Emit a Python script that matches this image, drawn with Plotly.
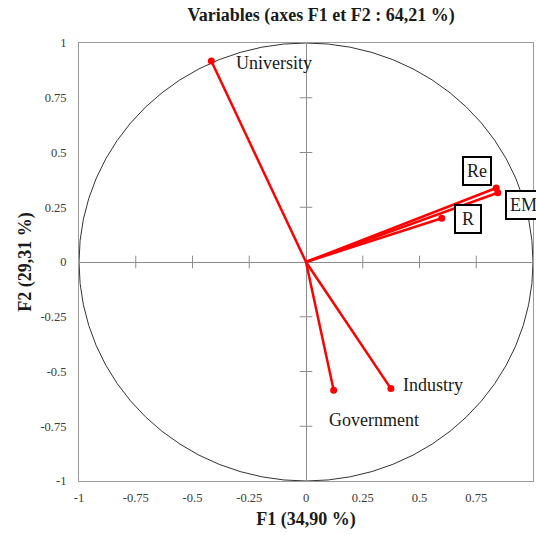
import plotly.graph_objects as go

variables = ["University", "Re", "EM", "R", "Industry", "Government"]
f1 = [-0.417, 0.838, 0.845, 0.598, 0.374, 0.122]
f2 = [0.918, 0.338, 0.316, 0.2, -0.578, -0.586]
tick_vals = [-1, -0.75, -0.5, -0.25, 0, 0.25, 0.5, 0.75, 1]
tick_text = ["-1", "-0.75", "-0.5", "-0.25", "0", "0.25", "0.5", "0.75", "1"]

label_style = {
    "University": dict(xshift=63, yshift=-2, box=False, width=None),
    "Re": dict(xshift=-19, yshift=17, box=True, width=None),
    "EM": dict(xshift=26, yshift=-12, box=True, width=None),
    "R": dict(xshift=26, yshift=-1, box=True, width=18),
    "Industry": dict(xshift=42, yshift=4, box=False, width=None),
    "Government": dict(xshift=40, yshift=-30, box=False, width=None),
}

SERIF = "Liberation Serif, Times New Roman, serif"
RED = "#ff0000"
TXT = "#1a1a1a"
AXC = "#8c8c8c"

fig = go.Figure()

# crosshair tick marks on the centre axes
inner = [v for v in tick_vals if v not in (-1, 1, 0)]
fig.add_trace(go.Scatter(x=inner, y=[0] * len(inner), mode="markers",
                         marker=dict(symbol="line-ns-open", size=9, color=AXC, line=dict(color=AXC, width=1)),
                         hoverinfo="skip", showlegend=False))
fig.add_trace(go.Scatter(x=[0] * len(inner), y=inner, mode="markers",
                         marker=dict(symbol="line-ew-open", size=9, color=AXC, line=dict(color=AXC, width=1)),
                         hoverinfo="skip", showlegend=False))

for name, x, y in zip(variables, f1, f2):
    fig.add_trace(go.Scatter(x=[0, x], y=[0, y], mode="lines",
                             line=dict(color=RED, width=2.5), showlegend=False, hoverinfo="skip"))
fig.add_trace(go.Scatter(x=f1, y=f2, mode="markers", marker=dict(color=RED, size=7),
                         showlegend=False, text=variables))

for name, x, y in zip(variables, f1, f2):
    st = label_style[name]
    ann = dict(x=x, y=y, text=name, showarrow=False, xshift=st["xshift"], yshift=st["yshift"],
               font=dict(family=SERIF, size=18, color=TXT))
    if st["box"]:
        ann.update(bordercolor="black", borderwidth=2, borderpad=3, bgcolor="white")
    if st["width"]:
        ann.update(width=st["width"])
    fig.add_annotation(**ann)

fig.add_shape(type="circle", xref="x", yref="y", x0=-1, y0=-1, x1=1, y1=1,
              line=dict(color="#333333", width=1), layer="below")

axis_common = dict(range=[-1, 1], tickvals=tick_vals, ticktext=tick_text, showgrid=False,
                   zeroline=True, zerolinecolor=AXC, zerolinewidth=1,
                   showline=True, linecolor="#9a9a9a", linewidth=1, mirror=True,
                   ticks="", tickfont=dict(family=SERIF, size=12.5, color="#3a3a3a"))

fig.update_layout(
    width=536, height=535,
    margin=dict(l=79, r=3, t=43, b=54),
    paper_bgcolor="white", plot_bgcolor="white",
    title=dict(text="<b>Variables (axes F1 et F2 : 64,21 %)</b>", x=0.599, xanchor="center",
               y=0.972, yanchor="middle", font=dict(family=SERIF, size=18, color=TXT)),
    xaxis=dict(**axis_common, title=dict(text="<b>F1 (34,90 %)</b>", standoff=8,
                                         font=dict(family=SERIF, size=18, color=TXT))),
    yaxis=dict(**axis_common, title=dict(text="<b>F2 (29,31 %)</b>", standoff=4,
                                         font=dict(family=SERIF, size=18, color=TXT))),
)
fig.update_xaxes(ticklabelstandoff=5)
fig.update_yaxes(ticklabelstandoff=9)

fig.write_html("out.html", config={"displayModeBar": False},
               post_script="document.body.style.margin='0';document.body.style.overflow='hidden';")
